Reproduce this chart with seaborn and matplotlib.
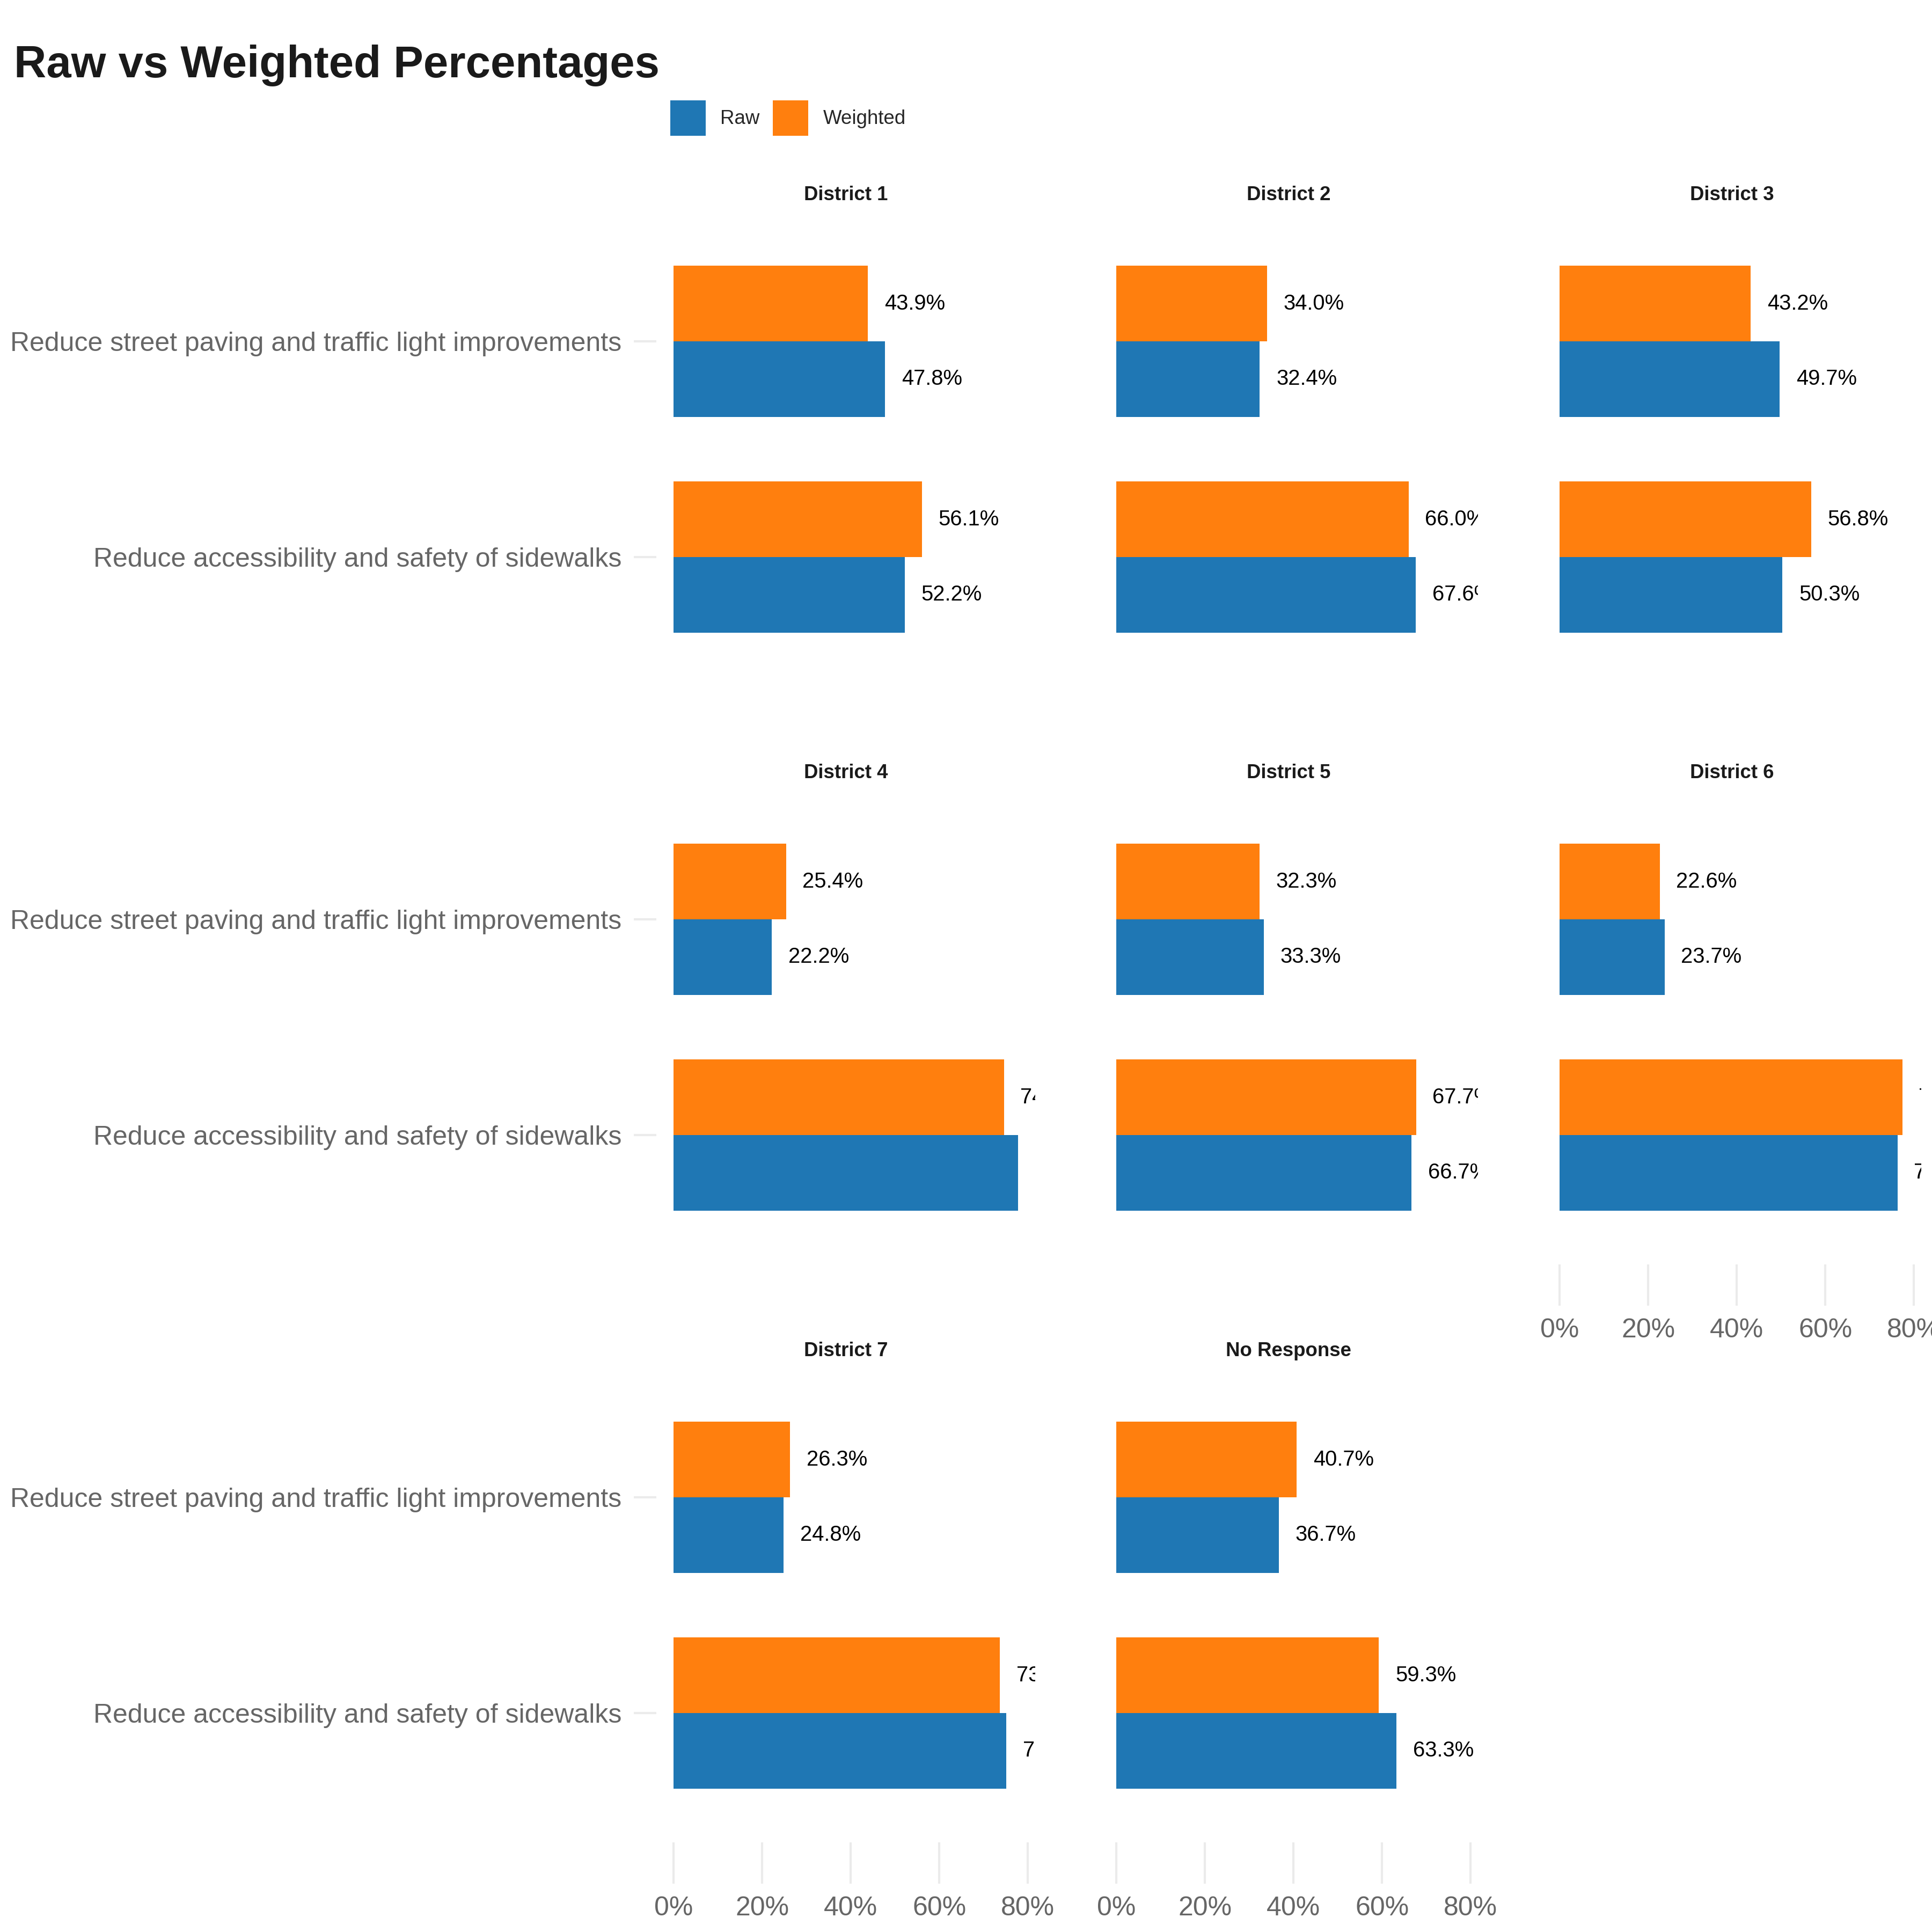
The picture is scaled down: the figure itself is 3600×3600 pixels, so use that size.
import matplotlib
matplotlib.use("Agg")
import matplotlib.pyplot as plt
from matplotlib.patches import Patch
import seaborn as sns
import pandas as pd

# ---------------- data ----------------
districts = ["District 1", "District 2", "District 3", "District 4",
             "District 5", "District 6", "District 7", "No Response"]
questions = ["Reduce street paving and traffic light improvements",
             "Reduce accessibility and safety of sidewalks"]
raw_paving = [47.8, 32.4, 49.7, 22.2, 33.3, 23.7, 24.8, 36.7]
raw_sidewalks = [52.2, 67.6, 50.3, 77.8, 66.7, 76.3, 75.2, 63.3]
weighted_paving = [43.9, 34.0, 43.2, 25.4, 32.3, 22.6, 26.3, 40.7]
weighted_sidewalks = [56.1, 66.0, 56.8, 74.6, 67.7, 77.4, 73.7, 59.3]
series = ["Raw", "Weighted"]
x_ticks = [0, 20, 40, 60, 80]
colors = {"Raw": "#1F77B4", "Weighted": "#FF7F0E"}

rows = []
for i, d in enumerate(districts):
    rows.append((d, questions[0], "Raw", raw_paving[i]))
    rows.append((d, questions[1], "Raw", raw_sidewalks[i]))
    rows.append((d, questions[0], "Weighted", weighted_paving[i]))
    rows.append((d, questions[1], "Weighted", weighted_sidewalks[i]))
df = pd.DataFrame(rows, columns=["district", "question", "type", "pct"])

# ---------------- style ----------------
sns.set_style("white")
plt.rcParams["font.family"] = ["Liberation Sans", "DejaVu Sans"]

W = H = 3600
DPI = 300
fig = plt.figure(figsize=(W / DPI, H / DPI), dpi=DPI)
fig.patch.set_facecolor("white")

col_left = [1223, 2048, 2874]
panel_w = 706
row_top = [395, 1472, 2549]
panel_h = 884

mx = df["pct"].max()
xlim = (-0.05 * mx, 1.05 * mx)

tick_col = "#EBEBEB"
lab_col = "#666666"

bottom_panels = {6, 7, 5}

for i, d in enumerate(districts):
    r, c = divmod(i, 3)
    ax = fig.add_axes([col_left[c] / W, 1 - (row_top[r] + panel_h) / H,
                       panel_w / W, panel_h / H])
    sub = df[df["district"] == d]
    sns.barplot(data=sub, y="question", x="pct", hue="type",
                order=questions, hue_order=["Weighted", "Raw"],
                palette=colors, width=0.7, saturation=1, legend=False,
                orient="h", ax=ax, errorbar=None, linewidth=0,
                edgecolor="none")
    for cont in ax.containers:
        labs = ax.bar_label(cont, fmt="%.1f%%", padding=7.4, fontsize=9.6,
                            color="black")
        for t in labs:
            t.set_clip_on(True)
            t.set_clip_box(ax.bbox)
    ax.set_xlim(*xlim)
    ax.set_ylim(1.6, -0.6)
    for s in ax.spines.values():
        s.set_visible(False)
    ax.grid(False)
    ax.set_xlabel("")
    ax.set_ylabel("")
    ax.set_title(d, fontsize=8.8, fontweight="bold", color="#1A1A1A", pad=5.3)

    ax.set_xticks(x_ticks)
    if i in bottom_panels:
        ax.set_xticklabels([f"{v}%" for v in x_ticks])
        ax.tick_params(axis="x", length=18.5, width=1.0, color=tick_col,
                       labelsize=12, labelcolor=lab_col, pad=5.5, bottom=True)
    else:
        ax.tick_params(axis="x", bottom=False, labelbottom=False)

    ax.set_yticks([0, 1])
    if c == 0:
        ax.set_yticklabels(questions)
        ax.tick_params(axis="y", length=10.1, width=1.0, color=tick_col,
                       labelsize=12, labelcolor=lab_col, pad=5.5, left=True)
    else:
        ax.tick_params(axis="y", left=False, labelleft=False)

# title
fig.text(26 / W, 1 - 144 / H, "Raw vs Weighted Percentages", fontsize=20.0,
         fontweight="bold", color="#1A1A1A", ha="left", va="baseline")

# legend
handles = [Patch(facecolor=colors[s], edgecolor="none", label=s) for s in series]
fs = 8.8
em = fs * DPI / 72
key = 66 / em
hh = (key - 0.245) / 0.65
fig.legend(handles=handles, loc="upper left",
           bbox_to_anchor=(1249 / W, 1 - 187 / H), ncol=2, frameon=False,
           fontsize=fs, handlelength=key, handleheight=hh,
           handletextpad=27 / em, columnspacing=25 / em, borderpad=0,
           borderaxespad=0)

fig.savefig("out.png", dpi=DPI, facecolor="white")
